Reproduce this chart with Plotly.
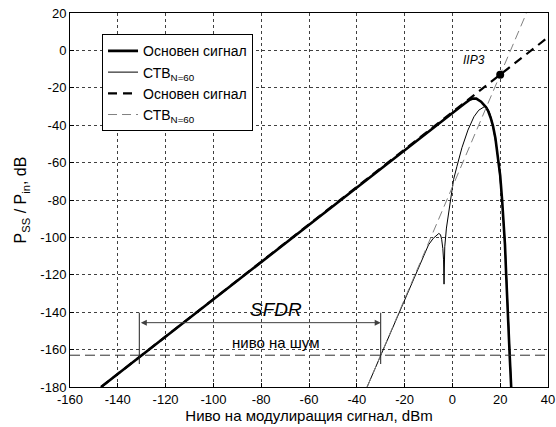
import plotly.graph_objects as go

# ---- data ----
# fundamental (thick solid)
fund_x = [-147, -60, -20, 0, 3, 5, 7, 8.5, 10, 12, 14, 15, 16, 17, 18, 19, 20, 20.8, 21.5, 22, 22.5, 23, 23.5, 24, 24.6]
fund_y = [-180, -93, -53, -33.2, -30.4, -28.5, -26.6, -25.7, -25.8, -27.4, -30.3, -32.5, -36, -40.5, -47, -56, -67, -80, -93, -104, -120, -138, -152, -164, -180]

# third-order product, N=60 (thin solid)
im3_x = [-35.7, -20, -12, -10, -8, -6.5, -5.7, -5, -4.5, -4, -3.7, -3.5, -3.2, -2.5, -1.8, -1, -0.4, 0.5, 1.9, 4, 6.5, 9, 11, 12.5, 13.5,
         14.5, 15.5, 16.5, 17.5, 18.5, 19.5, 20.5, 21.2, 22, 22.6, 23.1, 23.6, 24.1, 24.7]
im3_y = [-180, -133, -109.3, -104, -100.5, -98.6, -97.9, -98.5, -101, -106, -112, -125, -105, -95, -89, -80, -74.6, -69, -62, -52, -42.6, -35.5, -32, -30.5, -30,
         -30.5, -33, -37.5, -44, -52, -63, -75, -87, -102, -120, -138, -152, -164, -180]

# asymptotes (thick dashed: slope 1, thin dashed: slope 3)
fund_asym_x = [-147, 40]
fund_asym_y = [-180, 7]
im3_asym_x = [-35.67, 31]
im3_asym_y = [-180, 20]

iip3_x = [20]
iip3_y = [-13]

noise_level = -163
sfdr_left = -131
sfdr_right = -30

x_ticks = [-160, -140, -120, -100, -80, -60, -40, -20, 0, 20, 40]
y_ticks = [20, 0, -20, -40, -60, -80, -100, -120, -140, -160, -180]

FONT = "Liberation Sans, Arial, sans-serif"

fig = go.Figure()
fig.add_trace(go.Scatter(x=fund_x, y=fund_y, mode="lines", name="Основен сигнал",
                         line=dict(color="black", width=2.6)))
fig.add_trace(go.Scatter(x=im3_x, y=im3_y, mode="lines", name="СТВ<sub>N=60</sub>",
                         line=dict(color="black", width=1)))
fig.add_trace(go.Scatter(x=fund_asym_x, y=fund_asym_y, mode="lines", name="Основен сигнал",
                         line=dict(color="black", width=2.2, dash="9px,6px")))
fig.add_trace(go.Scatter(x=im3_asym_x, y=im3_asym_y, mode="lines", name="СТВ<sub>N=60</sub>",
                         line=dict(color="#808080", width=1, dash="9px,5px")))
fig.add_trace(go.Scatter(x=iip3_x, y=iip3_y, mode="markers", showlegend=False,
                         marker=dict(color="black", size=8)))

# noise floor
fig.add_shape(type="line", xref="paper", x0=0, x1=1, yref="y", y0=noise_level, y1=noise_level,
              line=dict(color="#303030", width=1, dash="10px,5px"))
# SFDR markers
for xv in (sfdr_left, sfdr_right):
    fig.add_shape(type="line", xref="x", x0=xv, x1=xv, yref="y", y0=-140.3, y1=-167.7,
                  line=dict(color="#202020", width=1))
fig.add_annotation(x=sfdr_right, y=-145.6, ax=sfdr_left, ay=-145.6, axref="x", ayref="y",
                   xref="x", yref="y", text="", showarrow=True, arrowside="end+start",
                   arrowhead=2, arrowsize=1.2, arrowwidth=1, arrowcolor="#404040")
fig.add_annotation(x=-74, y=-138.8, text="<i>SFDR</i>", showarrow=False,
                   font=dict(size=19, family=FONT, color="black"))
fig.add_annotation(x=-74, y=-156.2, text="ниво на шум", showarrow=False,
                   font=dict(size=15, family=FONT, color="black"))
fig.add_annotation(x=8.9, y=-5.1, text="<i>IIP3</i>", showarrow=False,
                   font=dict(size=12, family=FONT, color="black"))

axis_common = dict(showline=True, linecolor="black", linewidth=1, mirror=True,
                   showgrid=True, gridcolor="#404040", griddash="dot", gridwidth=1,
                   ticks="inside", ticklen=4, tickcolor="black", zeroline=False,
                   automargin=False,
                   tickfont=dict(size=13, family=FONT, color="black"))

fig.update_xaxes(range=[-160, 40], tickvals=x_ticks, ticktext=[str(v) for v in x_ticks],
                 title=dict(text="Ниво на модулиращия сигнал, dBm", standoff=2,
                            font=dict(size=15, family=FONT, color="black")),
                 **axis_common)
fig.update_yaxes(range=[-180, 20], tickvals=y_ticks, ticktext=[str(v) for v in y_ticks],
                 title=dict(text="P<sub>SS</sub> / P<sub>in</sub>, dB", standoff=9,
                            font=dict(size=16, family=FONT, color="black")),
                 **axis_common)

fig.update_layout(
    width=556, height=427,
    margin=dict(l=70, r=8, t=13, b=40, autoexpand=False),
    paper_bgcolor="white", plot_bgcolor="white",
    font=dict(family=FONT, color="black"),
    legend=dict(x=0.067, y=0.943, xanchor="left", yanchor="top",
                bgcolor="white", bordercolor="black", borderwidth=1,
                font=dict(size=14, family=FONT, color="black"),
                tracegroupgap=0, itemwidth=30),
)

fig.write_html("out.html")
